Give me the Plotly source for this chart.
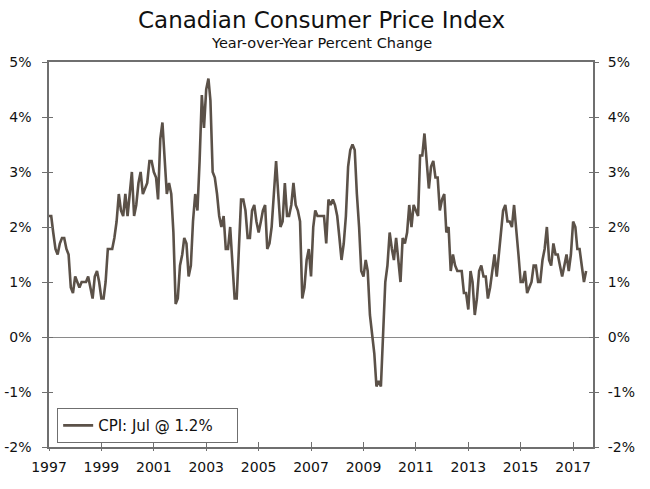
import plotly.graph_objects as go

# Year-over-year % change, monthly values
cpi_1997 = [2.2, 2.2, 1.9, 1.6, 1.5, 1.7, 1.8, 1.8, 1.6, 1.5, 0.9, 0.8]
cpi_1998 = [1.1, 1.0, 0.9, 1.0, 1.0, 1.0, 1.1, 0.9, 0.7, 1.1, 1.2, 1.0]
cpi_1999 = [0.7, 0.7, 1.0, 1.6, 1.6, 1.6, 1.8, 2.1, 2.6, 2.3, 2.2, 2.6]
cpi_2000 = [2.2, 2.7, 3.0, 2.2, 2.4, 2.8, 3.0, 2.6, 2.7, 2.8, 3.2, 3.2]
cpi_2001 = [3.0, 2.9, 2.5, 3.6, 3.9, 3.3, 2.6, 2.8, 2.6, 1.9, 0.6, 0.7]
cpi_2002 = [1.3, 1.5, 1.8, 1.7, 1.1, 1.3, 2.1, 2.6, 2.3, 3.2, 4.4, 3.8]
cpi_2003 = [4.5, 4.7, 4.3, 3.0, 2.9, 2.6, 2.2, 2.0, 2.2, 1.6, 1.6, 2.0]
cpi_2004 = [1.3, 0.7, 0.7, 1.7, 2.5, 2.5, 2.3, 1.8, 1.8, 2.3, 2.4, 2.1]
cpi_2005 = [1.9, 2.1, 2.3, 2.4, 1.6, 1.7, 2.0, 2.6, 3.2, 2.6, 2.0, 2.1]
cpi_2006 = [2.8, 2.2, 2.2, 2.4, 2.8, 2.4, 2.3, 2.1, 0.7, 0.9, 1.4, 1.6]
cpi_2007 = [1.1, 2.0, 2.3, 2.2, 2.2, 2.2, 2.2, 1.7, 2.5, 2.4, 2.5, 2.4]
cpi_2008 = [2.2, 1.8, 1.4, 1.7, 2.2, 3.1, 3.4, 3.5, 3.4, 2.6, 2.0, 1.2]
cpi_2009 = [1.1, 1.4, 1.2, 0.4, 0.1, -0.3, -0.9, -0.8, -0.9, 0.1, 1.0, 1.3]
cpi_2010 = [1.9, 1.6, 1.4, 1.8, 1.4, 1.0, 1.8, 1.7, 1.9, 2.4, 2.0, 2.4]
cpi_2011 = [2.3, 2.2, 3.3, 3.3, 3.7, 3.1, 2.7, 3.1, 3.2, 2.9, 2.9, 2.3]
cpi_2012 = [2.5, 2.6, 1.9, 2.0, 1.2, 1.5, 1.3, 1.2, 1.2, 1.2, 0.8, 0.8]
cpi_2013 = [0.5, 1.2, 1.0, 0.4, 0.7, 1.2, 1.3, 1.1, 1.1, 0.7, 0.9, 1.2]
cpi_2014 = [1.5, 1.1, 1.5, 2.0, 2.3, 2.4, 2.1, 2.1, 2.0, 2.4, 2.0, 1.5]
cpi_2015 = [1.0, 1.0, 1.2, 0.8, 0.9, 1.0, 1.3, 1.3, 1.0, 1.0, 1.4, 1.6]
cpi_2016 = [2.0, 1.4, 1.3, 1.7, 1.5, 1.5, 1.3, 1.1, 1.3, 1.5, 1.2, 1.5]
cpi_2017 = [2.1, 2.0, 1.6, 1.6, 1.3, 1.0, 1.2]

yearly = [cpi_1997, cpi_1998, cpi_1999, cpi_2000, cpi_2001, cpi_2002, cpi_2003,
          cpi_2004, cpi_2005, cpi_2006, cpi_2007, cpi_2008, cpi_2009, cpi_2010,
          cpi_2011, cpi_2012, cpi_2013, cpi_2014, cpi_2015, cpi_2016, cpi_2017]

dates, values = [], []
for i, arr in enumerate(yearly):
    for m, v in enumerate(arr):
        dates.append(f"{1997 + i}-{m + 1:02d}-01")
        values.append(v)

x_tick_years = [1997, 1999, 2001, 2003, 2005, 2007, 2009, 2011, 2013, 2015, 2017]
x_tick_vals = [f"{y}-01-01" for y in x_tick_years]
x_tick_text = [str(y) for y in x_tick_years]
y_tick_vals = [-2, -1, 0, 1, 2, 3, 4, 5]
y_tick_text = [f"{v}%" for v in y_tick_vals]

series_name = "CPI: Jul @ 1.2%"

FONT = "DejaVu Sans"
LINE_COLOR = "#5b5148"
AXIS_COLOR = "#6f6f6f"
TEXT_COLOR = "#111111"
x_range = ["1997-01-01", "2017-10-05"]
y_range = [-2, 5]

fig = go.Figure()
fig.add_trace(go.Scatter(x=dates, y=values, mode="lines",
                         name=series_name + "\u00a0\u00a0\u00a0\u00a0",
                         line=dict(color=LINE_COLOR, width=2.6),
                         xaxis="x", yaxis="y"))
# helper traces so the overlay axes (inside tick halves / right axis) render
for xa, ya in [("x2", "y"), ("x", "y2"), ("x", "y3"), ("x", "y4")]:
    fig.add_trace(go.Scatter(x=[dates[0]], y=[values[0]], mode="lines",
                             showlegend=False, hoverinfo="skip",
                             line=dict(color="rgba(0,0,0,0)"),
                             xaxis=xa, yaxis=ya))

tickfont = dict(family=FONT, size=14, color=TEXT_COLOR)

fig.update_layout(
    width=650, height=489,
    margin=dict(l=49, r=57, t=62, b=42),
    paper_bgcolor="white", plot_bgcolor="white",
    font=dict(family=FONT, color=TEXT_COLOR),
    showlegend=True,
    legend=dict(x=0.015, y=0.101, xanchor="left", yanchor="top",
                bordercolor=AXIS_COLOR, borderwidth=1, bgcolor="white",
                font=dict(family=FONT, size=15, color=TEXT_COLOR),
                itemwidth=30),
    xaxis=dict(type="date", range=x_range, tickvals=x_tick_vals, ticktext=x_tick_text,
               ticks="outside", ticklen=2, tickcolor=AXIS_COLOR, tickwidth=1,
               showline=True, linecolor=AXIS_COLOR, linewidth=1.5, mirror=True,
               showgrid=False, zeroline=False, tickfont=tickfont,
               ticklabelstandoff=4, automargin=False),
    xaxis2=dict(type="date", range=x_range, overlaying="x", side="bottom",
                anchor="y", tickvals=x_tick_vals, showticklabels=False,
                ticks="inside", ticklen=5, tickcolor=AXIS_COLOR, tickwidth=1,
                showline=False, showgrid=False, zeroline=False, automargin=False),
    yaxis=dict(range=y_range, tickvals=y_tick_vals, ticktext=y_tick_text,
               ticks="outside", ticklen=5, tickcolor=AXIS_COLOR, tickwidth=1,
               showline=True, linecolor=AXIS_COLOR, linewidth=1.5, mirror=True,
               showgrid=False, zeroline=True, zerolinecolor="#8a8a8a",
               zerolinewidth=1, tickfont=tickfont, ticklabelstandoff=8,
               automargin=False),
    yaxis2=dict(range=y_range, overlaying="y", side="right", anchor="x",
                tickvals=y_tick_vals, ticktext=y_tick_text,
                ticks="outside", ticklen=5, tickcolor=AXIS_COLOR, tickwidth=1,
                showline=False, showgrid=False, zeroline=False,
                tickfont=tickfont, ticklabelstandoff=6, automargin=False),
    yaxis3=dict(range=y_range, overlaying="y", side="left", anchor="x",
                tickvals=y_tick_vals[1:-1], showticklabels=False,
                ticks="inside", ticklen=4, tickcolor=AXIS_COLOR, tickwidth=1,
                showline=False, showgrid=False, zeroline=False, automargin=False),
    yaxis4=dict(range=y_range, overlaying="y", side="right", anchor="x",
                tickvals=y_tick_vals[1:-1], showticklabels=False,
                ticks="inside", ticklen=4, tickcolor=AXIS_COLOR, tickwidth=1,
                showline=False, showgrid=False, zeroline=False, automargin=False),
    annotations=[
        dict(text="Canadian Consumer Price Index", xref="paper", yref="paper",
             x=0.5, y=1, yshift=42, xanchor="center", yanchor="middle",
             showarrow=False, font=dict(family=FONT, size=23, color=TEXT_COLOR)),
        dict(text="Year-over-Year Percent Change", xref="paper", yref="paper",
             x=0.5, y=1, yshift=19, xanchor="center", yanchor="middle",
             showarrow=False, font=dict(family=FONT, size=14.5, color=TEXT_COLOR)),
    ],
)

fig.write_html("out.html", config={"displayModeBar": False},
               post_script="document.body.style.margin='0';")
